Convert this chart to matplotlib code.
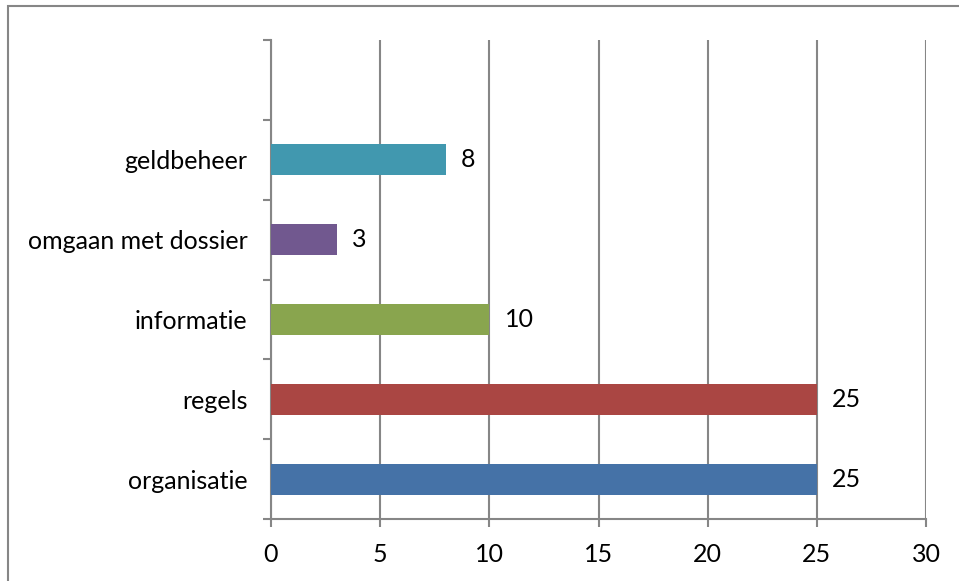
import matplotlib.pyplot as plt
from matplotlib.patches import Rectangle

categories = ['organisatie', 'regels', 'informatie', 'omgaan met dossier', 'geldbeheer']
values = [25, 25, 10, 3, 8]
colors = ['#4572A7', '#AA4643', '#89A54E', '#71588F', '#4198AF']
xticks = [0, 5, 10, 15, 20, 25, 30]

plt.rcParams['font.family'] = ['Lato', 'DejaVu Sans']

fig = plt.figure(figsize=(9.59, 5.81), dpi=100)
ax = fig.add_axes([271 / 959, 1 - 519 / 581, 655 / 959, 479 / 581])

pos = list(range(len(categories)))
ax.barh(pos, values, height=0.39, color=colors, zorder=3)
for p, v in zip(pos, values):
    ax.annotate(str(v), (v, p), xytext=(11, 0), textcoords='offset points',
                va='center', ha='left', fontsize=18)

ax.set_xlim(0, 30)
ax.set_ylim(-0.5, len(categories) + 0.5)
ax.set_xticks(xticks)
ax.set_xticklabels([str(t) for t in xticks], fontsize=18)
ax.set_yticks(pos)
ax.set_yticklabels(categories, fontsize=18)
ax.set_yticks([i - 0.5 for i in range(len(categories) + 2)], minor=True)
ax.tick_params(axis='y', which='major', length=0, pad=17)
ax.tick_params(axis='y', which='minor', length=6, width=1.5, color='#868686', direction='out')
ax.tick_params(axis='x', length=6, width=1.5, color='#868686', pad=11)
ax.grid(axis='x', color='#868686', linewidth=1.5, zorder=0)
for s in ['top', 'right']:
    ax.spines[s].set_visible(False)
for s in ['left', 'bottom']:
    ax.spines[s].set_color('#868686')
    ax.spines[s].set_linewidth(1.5)

fig.patches.append(Rectangle((8 / 959, -0.01), 1.5, 1 - 6 / 581 + 0.01, transform=fig.transFigure,
                             fill=False, edgecolor='#868686', linewidth=1.5))

fig.savefig('out.png', dpi=100)
